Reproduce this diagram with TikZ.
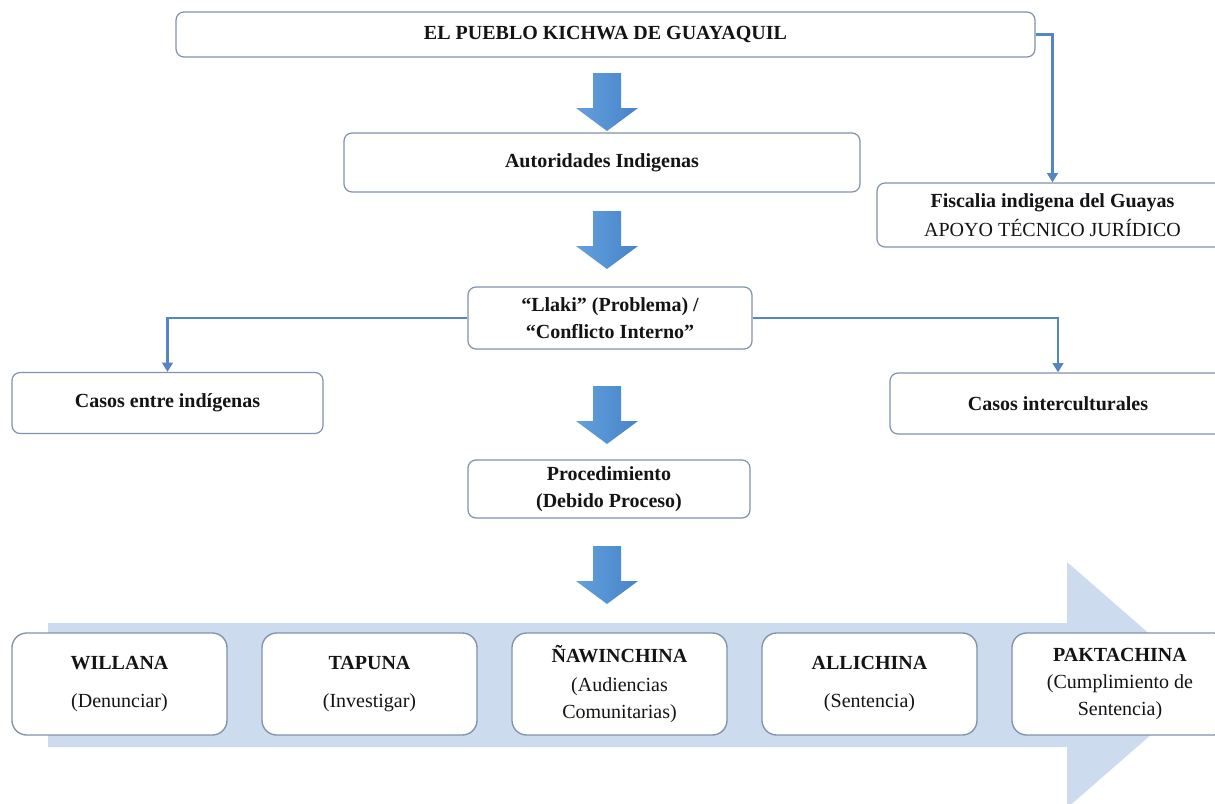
\documentclass[tikz,border=0pt]{standalone}
\usepackage{fontspec}
\setmainfont{Liberation Serif}
\usetikzlibrary{arrows.meta}
\definecolor{conncol}{RGB}{84,134,196}
\definecolor{boxcol}{RGB}{128,146,172}
\definecolor{bandcol}{RGB}{205,219,238}
\definecolor{arrlight}{RGB}{100,160,222}
\definecolor{arrdark}{RGB}{70,132,200}
\definecolor{textcol}{RGB}{20,20,20}
\begin{document}
\begin{tikzpicture}[x=0.75pt,y=-0.75pt,
  sz/.style 2 args={minimum width=#1*0.75pt, minimum height=#2*0.75pt},
  box/.style={draw=boxcol, line width=0.9pt, rounded corners=6pt, fill=white,
    align=center, inner sep=0pt, text=textcol,
    font=\fontsize{15}{20}\selectfont\bfseries},
  stepbox/.style={box, rounded corners=11pt, line width=1pt,
    font=\fontsize{15}{20}\selectfont\bfseries},
  conn/.style={draw=conncol, line width=2.2pt,
    -{Triangle[length=7pt,width=8pt]}},
  downarrow/.pic={\shade[left color=arrlight, right color=arrdark]
    (-14,0) -- (14,0) -- (14,35) -- (31,35) -- (0,58) -- (-31,35) -- (-14,35) -- cycle;}
]
\clip (0,0) rectangle (1215,804);
\fill[white] (0,0) rectangle (1215,804);

% top part
\node[box, sz={859}{45}] (top) at (605.5,34.5) {EL PUEBLO KICHWA DE GUAYAQUIL};
\node[box, sz={516}{59}] (auto) at (602,162.5) {Autoridades Indigenas};
\node[box, sz={351}{64}, font=\fontsize{15}{21.5}\selectfont\bfseries] (fisc) at (1052.5,215)
  {Fiscalia indigena del Guayas\\\mdseries APOYO TÉCNICO JURÍDICO};
\node[box, sz={284}{62}] (llaki) at (610,318) {“Llaki” (Problema) /\\“Conflicto Interno”};
\node[box, sz={311}{61}] (entre) at (167.5,403) {Casos entre indígenas};
\node[box, sz={336}{61}] (inter) at (1058,403.5) {Casos interculturales};
\node[box, sz={282}{58}] (proc) at (609,489) {Procedimiento\\(Debido Proceso)};

% connectors
\draw[conn] (top.east) -| (fisc.north);
\draw[conn] (llaki.west) -| (entre.north);
\draw[conn] (llaki.east) -| (inter.north);

% block arrows
\pic at (607,73) {downarrow};
\pic at (607,211) {downarrow};
\pic at (607,386) {downarrow};
\pic at (607,546) {downarrow};

% big band arrow
\fill[bandcol] (48,623) -- (1067,623) -- (1067,562) -- (1208,685) -- (1067,808)
  -- (1067,747) -- (48,747) -- cycle;

% bottom steps
\node[stepbox, sz={215}{102}] (s1) at (119.5,684) {WILLANA\\[8pt]\mdseries (Denunciar)};
\node[stepbox, sz={215}{102}] (s2) at (369.5,684) {TAPUNA\\[8pt]\mdseries (Investigar)};
\node[stepbox, sz={215}{102}] (s3) at (619.5,684) {ÑAWINCHINA\\[2pt]\mdseries (Audiencias\\\mdseries Comunitarias)};
\node[stepbox, sz={215}{102}] (s4) at (869.5,684) {ALLICHINA\\[8pt]\mdseries (Sentencia)};
\node[stepbox, sz={216}{102}] (s5) at (1120,684) {PAKTACHINA\\\mdseries (Cumplimiento de\\\mdseries Sentencia)};
\end{tikzpicture}
\end{document}
